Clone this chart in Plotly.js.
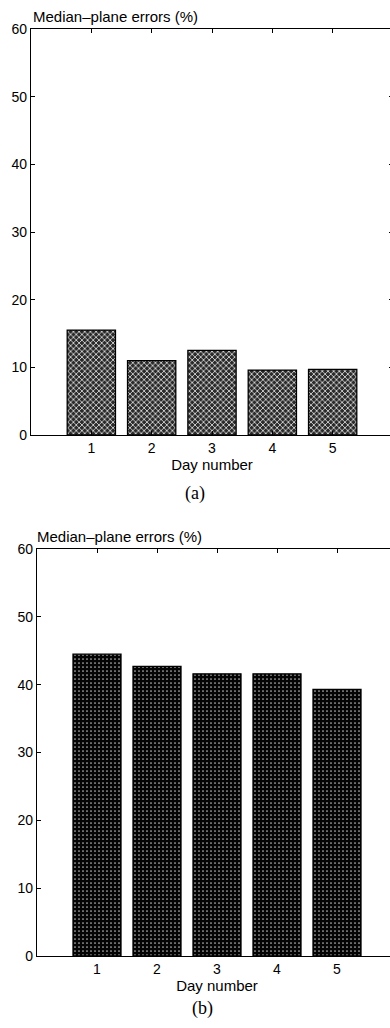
<!DOCTYPE html>
<html>
<head>
<meta charset="utf-8">
<script src="https://cdn.plot.ly/plotly-3.0.1.min.js"></script>
<style>
  html, body { margin: 0; padding: 0; overflow: hidden; background: #fff; }
  #chart { width: 400px; height: 1028px; }
</style>
</head>
<body>
<div id="chart"></div>
<script>
// Day-by-day median-plane error rates for the two listening conditions
const days = [1, 2, 3, 4, 5];
const dayLabels = ['1', '2', '3', '4', '5'];
const errorsA = [15.5, 11.0, 12.5, 9.6, 9.7];
const errorsB = [44.5, 42.7, 41.6, 41.6, 39.3];
const yTicks = [0, 10, 20, 30, 40, 50, 60];

const W = 400, H = 1028;
const sans = 'Liberation Sans, Arial, Helvetica, sans-serif';
const serif = 'Liberation Serif, Times New Roman, serif';

const traces = [
  {
    type: 'bar', x: days, y: errorsA, xaxis: 'x', yaxis: 'y', width: 0.8,
    marker: {
      color: '#333',
      line: { color: '#000', width: 1.3 },
      pattern: { shape: 'x', bgcolor: '#2a2a2a', fgcolor: '#d4d4d4', size: 4, solidity: 0.4 }
    },
    hoverinfo: 'x+y'
  },
  {
    type: 'bar', x: days, y: errorsB, xaxis: 'x2', yaxis: 'y2', width: 0.8,
    marker: {
      color: '#050505',
      line: { color: '#000', width: 1.3 },
      pattern: { shape: '.', bgcolor: '#040404', fgcolor: '#bdbdbd', size: 4, solidity: 0.14 }
    },
    hoverinfo: 'x+y'
  }
];

function xAxis(domain, anchor) {
  return {
    domain: domain, anchor: anchor, range: [0, 6],
    tickmode: 'array', tickvals: days, ticktext: dayLabels,
    ticks: 'inside', ticklen: 4, tickwidth: 1, tickcolor: '#000',
    showline: true, linecolor: '#000', linewidth: 1.2, mirror: 'ticks',
    showgrid: false, zeroline: false,
    tickfont: { family: sans, size: 14, color: '#000' },
    title: { text: 'Day number', font: { family: sans, size: 15, color: '#000' }, standoff: 2 },
    fixedrange: true
  };
}
function yAxis(domain, anchor) {
  return {
    domain: domain, anchor: anchor, range: [0, 60],
    tickmode: 'array', tickvals: yTicks,
    ticks: 'inside', ticklen: 4, tickwidth: 1, tickcolor: '#000',
    showline: true, linecolor: '#000', linewidth: 1.2, mirror: 'ticks',
    showgrid: false, zeroline: false,
    tickfont: { family: sans, size: 14, color: '#000' },
    fixedrange: true
  };
}

const fy = px => 1 - px / H;
const fx = px => px / W;

const layout = {
  width: W, height: H,
  margin: { l: 0, r: 0, t: 0, b: 0 },
  paper_bgcolor: '#fff', plot_bgcolor: '#fff',
  showlegend: false, bargap: 0,
  xaxis: xAxis([fx(31), fx(393)], 'y'),
  yaxis: yAxis([fy(435), fy(29)], 'x'),
  xaxis2: xAxis([fx(37), fx(397)], 'y2'),
  yaxis2: yAxis([fy(956), fy(549)], 'x2'),
  annotations: [
    { text: 'Median\u2013plane errors (%)', xref: 'paper', yref: 'paper',
      x: fx(31), y: fy(27), xanchor: 'left', yanchor: 'bottom', showarrow: false,
      font: { family: sans, size: 15, color: '#000' } },
    { text: 'Median\u2013plane errors (%)', xref: 'paper', yref: 'paper',
      x: fx(35), y: fy(547), xanchor: 'left', yanchor: 'bottom', showarrow: false,
      font: { family: sans, size: 15, color: '#000' } },
    { text: '(a)', xref: 'paper', yref: 'paper',
      x: fx(195), y: fy(493), xanchor: 'center', yanchor: 'middle', showarrow: false,
      font: { family: serif, size: 18, color: '#000' } },
    { text: '(b)', xref: 'paper', yref: 'paper',
      x: fx(203), y: fy(1008), xanchor: 'center', yanchor: 'middle', showarrow: false,
      font: { family: serif, size: 18, color: '#000' } }
  ]
};

Plotly.newPlot('chart', traces, layout, { displayModeBar: false, staticPlot: true });
</script>
</body>
</html>
